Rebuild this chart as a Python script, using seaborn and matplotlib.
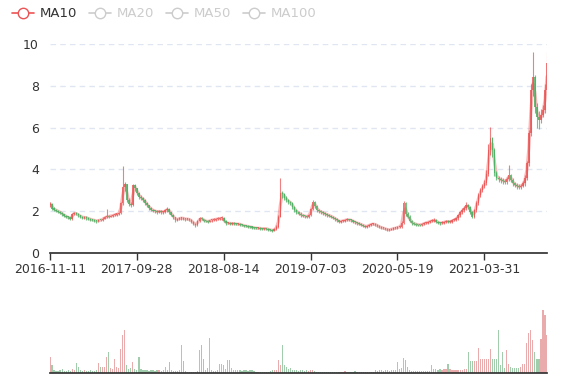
import matplotlib
matplotlib.use("Agg")
import matplotlib.pyplot as plt
from matplotlib.lines import Line2D
import seaborn as sns
import numpy as np
import pandas as pd

# weekly-ish prices
closes = [
    2.35, 2.12, 2.08, 2.02, 1.98, 1.92, 1.85, 1.78, 1.72, 1.70,
    1.63, 1.88, 1.92, 1.85, 1.80, 1.74, 1.69, 1.72, 1.66, 1.63,
    1.60, 1.58, 1.55, 1.52, 1.58, 1.57, 1.65, 1.70, 1.75, 1.74,
    1.78, 1.80, 1.84, 1.86, 1.90, 2.38, 3.17, 3.30, 2.54, 2.36,
    2.30, 3.25, 3.10, 2.85, 2.70, 2.62, 2.55, 2.40, 2.28, 2.15,
    2.08, 2.02, 2.00, 1.96, 2.02, 1.95, 1.98, 2.05, 2.10, 1.95,
    1.82, 1.70, 1.60, 1.62, 1.66, 1.68, 1.64, 1.62, 1.63, 1.58,
    1.50, 1.40, 1.34, 1.55, 1.66, 1.62, 1.55, 1.52, 1.50, 1.56,
    1.58, 1.60, 1.62, 1.64, 1.66, 1.66, 1.52, 1.42, 1.44, 1.40,
    1.42, 1.40, 1.38, 1.39, 1.36, 1.32, 1.30, 1.28, 1.26, 1.24,
    1.22, 1.20, 1.18, 1.19, 1.17, 1.16, 1.18, 1.15, 1.12, 1.10,
    1.07, 1.15, 1.26, 1.74, 2.87, 2.80, 2.65, 2.52, 2.45, 2.39,
    2.20, 2.06, 1.95, 1.88, 1.82, 1.78, 1.76, 1.74, 1.80, 2.10,
    2.46, 2.25, 2.06, 2.00, 1.95, 1.90, 1.86, 1.82, 1.78, 1.74,
    1.68, 1.62, 1.56, 1.50, 1.52, 1.55, 1.58, 1.60, 1.58, 1.56,
    1.50, 1.46, 1.42, 1.38, 1.34, 1.30, 1.26, 1.30, 1.35, 1.38,
    1.39, 1.34, 1.28, 1.24, 1.20, 1.18, 1.14, 1.10, 1.12, 1.15,
    1.18, 1.20, 1.24, 1.26, 1.45, 2.38, 1.85, 1.74, 1.55, 1.42,
    1.40, 1.36, 1.35, 1.34, 1.38, 1.42, 1.45, 1.48, 1.52, 1.55,
    1.58, 1.50, 1.45, 1.42, 1.45, 1.48, 1.52, 1.50, 1.50, 1.56,
    1.60, 1.66, 1.80, 1.95, 2.06, 2.15, 2.30, 2.20, 1.95, 1.74,
    2.06, 2.40, 2.78, 3.00, 3.20, 3.33, 3.80, 4.93, 5.50, 4.93,
    3.81, 3.60, 3.55, 3.49, 3.45, 3.41, 3.55, 3.73, 3.50, 3.33,
    3.25, 3.20, 3.17, 3.22, 3.33, 3.60, 4.29, 5.73, 7.80, 8.40,
    7.00, 6.50, 6.36, 6.60, 6.84, 7.80, 9.10,
]
first_open = 2.30

highs = [
    2.42, 2.38, 2.18, 2.12, 2.06, 2.01, 1.96, 1.88, 1.81, 1.76,
    1.74, 1.93, 1.98, 1.95, 1.89, 1.84, 1.78, 1.77, 1.75, 1.70,
    1.67, 1.65, 1.62, 1.59, 1.63, 1.64, 1.70, 1.76, 2.10, 1.82,
    1.83, 1.86, 1.89, 1.92, 1.97, 2.45, 4.16, 3.40, 3.32, 2.62,
    2.42, 3.30, 3.28, 3.12, 2.90, 2.76, 2.68, 2.60, 2.45, 2.32,
    2.20, 2.12, 2.08, 2.05, 2.08, 2.06, 2.03, 2.10, 2.18, 2.14,
    1.98, 1.86, 1.74, 1.68, 1.72, 1.74, 1.72, 1.69, 1.68, 1.67,
    1.62, 1.54, 1.44, 1.58, 1.72, 1.70, 1.65, 1.58, 1.56, 1.60,
    1.64, 1.66, 1.68, 1.70, 1.74, 1.76, 1.70, 1.56, 1.50, 1.48,
    1.48, 1.46, 1.44, 1.44, 1.42, 1.40, 1.36, 1.34, 1.32, 1.30,
    1.28, 1.26, 1.24, 1.24, 1.23, 1.21, 1.22, 1.22, 1.19, 1.16,
    1.13, 1.19, 1.32, 1.82, 3.58, 2.98, 2.86, 2.72, 2.60, 2.50,
    2.44, 2.26, 2.12, 2.00, 1.94, 1.88, 1.84, 1.82, 1.86, 2.16,
    2.55, 2.50, 2.30, 2.12, 2.06, 2.00, 1.96, 1.92, 1.88, 1.84,
    1.78, 1.72, 1.66, 1.60, 1.58, 1.60, 1.64, 1.66, 1.64, 1.62,
    1.60, 1.55, 1.50, 1.46, 1.42, 1.38, 1.33, 1.35, 1.40, 1.44,
    1.45, 1.43, 1.38, 1.32, 1.28, 1.24, 1.22, 1.18, 1.17, 1.20,
    1.23, 1.25, 1.29, 1.32, 1.52, 2.50, 2.42, 1.95, 1.80, 1.60,
    1.48, 1.45, 1.41, 1.40, 1.43, 1.47, 1.50, 1.54, 1.58, 1.62,
    1.66, 1.62, 1.54, 1.50, 1.51, 1.54, 1.58, 1.57, 1.56, 1.62,
    1.66, 1.72, 1.88, 2.02, 2.14, 2.24, 2.42, 2.36, 2.25, 2.00,
    2.12, 2.48, 2.86, 3.10, 3.30, 3.48, 3.95, 5.20, 6.04, 5.55,
    5.00, 3.92, 3.70, 3.64, 3.58, 3.54, 3.66, 4.20, 3.80, 3.58,
    3.40, 3.34, 3.30, 3.32, 3.45, 3.72, 4.40, 5.90, 8.10, 9.63,
    8.50, 7.20, 6.80, 6.90, 7.10, 8.10, 9.60,
]

lows = [
    2.22, 2.08, 2.00, 1.96, 1.90, 1.86, 1.78, 1.72, 1.66, 1.64,
    1.56, 1.60, 1.84, 1.80, 1.74, 1.68, 1.63, 1.65, 1.60, 1.57,
    1.54, 1.52, 1.48, 1.45, 1.49, 1.51, 1.54, 1.61, 1.66, 1.68,
    1.71, 1.73, 1.76, 1.79, 1.81, 1.86, 2.30, 2.95, 2.45, 2.26,
    2.22, 2.26, 2.95, 2.78, 2.60, 2.52, 2.45, 2.32, 2.18, 2.06,
    2.00, 1.94, 1.92, 1.88, 1.90, 1.88, 1.88, 1.92, 1.98, 1.88,
    1.76, 1.62, 1.50, 1.54, 1.57, 1.60, 1.58, 1.55, 1.56, 1.52,
    1.44, 1.35, 1.24, 1.30, 1.50, 1.56, 1.49, 1.46, 1.44, 1.46,
    1.50, 1.52, 1.55, 1.57, 1.58, 1.58, 1.46, 1.36, 1.37, 1.34,
    1.35, 1.35, 1.33, 1.33, 1.31, 1.27, 1.25, 1.23, 1.21, 1.19,
    1.17, 1.15, 1.13, 1.14, 1.12, 1.11, 1.12, 1.10, 1.07, 1.05,
    1.02, 1.04, 1.12, 1.22, 1.70, 2.62, 2.52, 2.42, 2.36, 2.30,
    2.12, 1.98, 1.86, 1.80, 1.74, 1.70, 1.69, 1.66, 1.68, 1.76,
    2.05, 2.16, 1.96, 1.92, 1.86, 1.82, 1.78, 1.74, 1.70, 1.66,
    1.62, 1.55, 1.49, 1.43, 1.45, 1.48, 1.50, 1.53, 1.52, 1.49,
    1.44, 1.40, 1.36, 1.32, 1.28, 1.24, 1.20, 1.22, 1.26, 1.30,
    1.33, 1.29, 1.23, 1.19, 1.15, 1.13, 1.08, 1.03, 1.06, 1.08,
    1.11, 1.13, 1.16, 1.19, 1.22, 1.40, 1.78, 1.66, 1.48, 1.36,
    1.34, 1.30, 1.29, 1.28, 1.30, 1.33, 1.37, 1.40, 1.43, 1.46,
    1.50, 1.44, 1.39, 1.36, 1.37, 1.40, 1.43, 1.44, 1.43, 1.45,
    1.51, 1.55, 1.60, 1.74, 1.88, 1.98, 2.08, 2.12, 1.86, 1.66,
    1.68, 1.98, 2.32, 2.68, 2.90, 3.10, 3.25, 3.70, 4.70, 4.60,
    3.70, 3.48, 3.40, 3.36, 3.30, 3.28, 3.32, 3.45, 3.40, 3.20,
    3.14, 3.08, 3.04, 3.08, 3.14, 3.22, 3.50, 4.18, 5.60, 7.50,
    6.70, 6.00, 5.95, 6.20, 6.50, 6.70, 7.60,
]

volumes = [
    26, 13, 4, 3, 3, 4, 6, 3, 3, 4,
    3, 6, 4, 16, 10, 4, 3, 5, 3, 3,
    4, 3, 3, 4, 16, 10, 10, 10, 25, 34,
    8, 6, 22, 10, 8, 38, 60, 68, 12, 6,
    8, 17, 6, 5, 25, 6, 4, 4, 4, 3,
    4, 4, 3, 4, 4, 3, 4, 9, 5, 18,
    4, 3, 3, 3, 4, 45, 19, 3, 2, 2,
    2, 2, 2, 3, 36, 45, 22, 4, 8, 55,
    4, 3, 3, 4, 14, 14, 12, 6, 21, 21,
    8, 5, 4, 4, 4, 3, 4, 4, 3, 4,
    4, 3, 2, 2, 2, 2, 2, 2, 2, 3,
    4, 4, 4, 21, 12, 45, 12, 10, 6, 8,
    4, 4, 4, 3, 4, 4, 3, 4, 3, 4,
    4, 3, 2, 2, 2, 2, 2, 2, 2, 2,
    2, 2, 2, 2, 2, 2, 3, 2, 2, 2,
    2, 3, 2, 2, 2, 2, 2, 2, 2, 2,
    2, 4, 3, 4, 4, 3, 4, 4, 3, 4,
    4, 4, 18, 6, 8, 24, 20, 9, 4, 3,
    3, 3, 3, 3, 3, 3, 3, 3, 3, 12,
    6, 6, 5, 6, 5, 6, 6, 15, 6, 5,
    5, 5, 5, 5, 5, 6, 6, 33, 19, 19,
    19, 19, 39, 22, 22, 22, 22, 22, 38, 22,
    22, 22, 69, 12, 33, 8, 36, 14, 10, 8,
    8, 8, 8, 10, 14, 14, 48, 63, 68, 52,
    33, 22, 22, 54, 100, 92, 60,
]

date_labels = ["2016-11-11", "2017-09-28", "2018-08-14",
               "2019-07-03", "2020-05-19", "2021-03-31"]
label_idx = [0, 43, 86, 129, 172, 215]

up_color = "#eb5454"
down_color = "#47b262"

df = pd.DataFrame({"close": closes, "high": highs, "low": lows, "volume": volumes})
df["idx"] = np.arange(len(df))
df["open"] = [first_open] + closes[:-1]
df["dir"] = np.where(df["close"] >= df["open"], "up", "down")
df["ma10"] = df["close"].rolling(2, min_periods=1).mean()

sns.set_theme(style="white")
plt.rcParams['font.family'] = ['DejaVu Sans']

fig = plt.figure(figsize=(5.77, 3.80), dpi=100)
ax = fig.add_axes([50 / 577, 1 - 253 / 380, 497 / 577, 209 / 380])
axv = fig.add_axes([50 / 577, 1 - 373 / 380, 497 / 577, 63 / 380])

# MA line sits under the candles, light
sns.lineplot(data=df, x="idx", y="ma10", ax=ax, color=up_color, alpha=0.4, linewidth=2.2, zorder=2)

# candles
cols = np.where(df["dir"] == "up", up_color, down_color)
ax.vlines(df["idx"], df["low"], df["high"], colors=cols, linewidth=0.8, alpha=0.75, zorder=3)
bottoms = np.minimum(df["open"], df["close"])
heights = np.maximum((df["close"] - df["open"]).abs(), 0.05)
ax.bar(df["idx"], heights, bottom=bottoms, width=0.75, color=cols, alpha=0.8, linewidth=0, zorder=3)

ax.set_xlim(0, len(df) - 1)
ax.set_ylim(0, 10)
ax.set_yticks([0, 2, 4, 6, 8, 10])
ax.set_xticks(label_idx)
ax.set_xticklabels(date_labels)
ax.set_xlabel("")
ax.set_ylabel("")
ax.grid(axis="y", color="#E0E6F1", linestyle=(0, (4, 3)), linewidth=1)
ax.grid(axis="x", visible=False)
for s in ["top", "right", "left"]:
    ax.spines[s].set_visible(False)
ax.spines["bottom"].set_color("#333333")
ax.tick_params(axis="x", colors="#333333", labelsize=9, length=5, width=1, direction="out", pad=2, bottom=True)
ax.tick_params(axis="y", colors="#333333", labelsize=9, length=0, pad=8)

# volume
sns.barplot(data=df, x="idx", y="volume", hue="dir", palette={"up": up_color, "down": down_color},
            native_scale=True, dodge=False, width=0.6, alpha=0.55, legend=False, ax=axv, linewidth=0)
axv.set_xlim(0, len(df) - 1)
axv.set_ylim(0, 100)
axv.set_xticks([])
axv.set_yticks([])
axv.set_xlabel("")
axv.set_ylabel("")
for s in ["top", "right", "left"]:
    axv.spines[s].set_visible(False)
axv.spines["bottom"].set_color("#333333")

# legend
names = ["MA10", "MA20", "MA50", "MA100"]
lcols = [up_color, "#cccccc", "#cccccc", "#cccccc"]
handles = [Line2D([0], [0], color=c, marker="o", markersize=7.5, markerfacecolor="white",
                  markeredgecolor=c, linewidth=1.2) for c in lcols]
leg = fig.legend(handles, names, loc="upper left", bbox_to_anchor=(0.0, 1.012), ncol=4,
                 frameon=False, fontsize=9.5, handlelength=1.7, handletextpad=0.4, columnspacing=0.9)
for t, c in zip(leg.get_texts(), ["#333333", "#cccccc", "#cccccc", "#cccccc"]):
    t.set_color(c)

fig.savefig("out.png", dpi=100)
